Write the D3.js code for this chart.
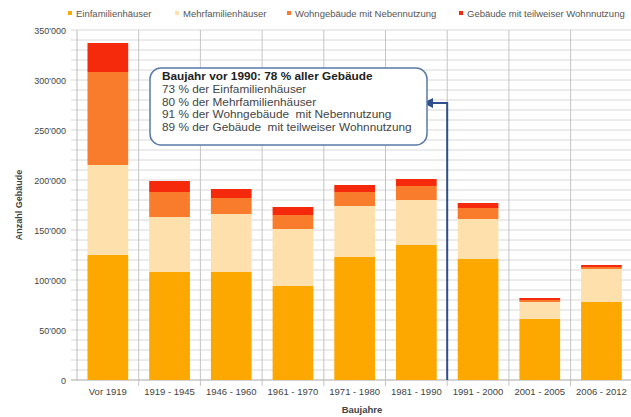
<!DOCTYPE html>
<html>
<head>
<meta charset="utf-8">
<script src="https://cdn.jsdelivr.net/npm/d3@7"></script>
<style>
  body { margin: 0; background: #fff; }
  svg { display: block; font-family: "Liberation Sans", Arial, sans-serif; }
</style>
</head>
<body>
<svg id="chart" width="631" height="417"></svg>
<script>
var categories = ['Vor 1919', '1919 - 1945', '1946 - 1960', '1961 - 1970', '1971 - 1980',
  '1981 - 1990', '1991 - 2000', '2001 - 2005', '2006 - 2012'];
var seriesNames = ['Einfamilienhäuser', 'Mehrfamilienhäuser', 'Wohngebäude mit Nebennutzung',
  'Gebäude mit teilweiser Wohnnutzung'];
var einfamilien = [125000, 108000, 108000, 94000, 123000, 135000, 121000, 61000, 78000];
var mehrfamilien = [90000, 55000, 58000, 57000, 51000, 45000, 40000, 17000, 33000];
var nebennutzung = [93000, 25000, 16000, 14000, 14000, 14000, 11000, 2000, 2000];
var teilweise = [29000, 11000, 9000, 8000, 7000, 7000, 5000, 2000, 2000];
var yTicks = [0, 50000, 100000, 150000, 200000, 250000, 300000, 350000];
var noteLines = ['Baujahr vor 1990: 78 % aller Gebäude', '73 % der Einfamilienhäuser',
  '80 % der Mehrfamilienhäuser', '91 % der Wohngebäude  mit Nebennutzung',
  '89 % der Gebäude  mit teilweiser Wohnnutzung'];

var colors = ['#fca800', '#fde0ab', '#f97c2c', '#f52a0c'];

var svg = d3.select('#chart');
var plotLeft = 77, plotRight = 631, plotTop = 30, plotBottom = 380;

var x = d3.scaleBand().domain(categories).range([plotLeft, plotLeft + 9 * 61.7]).paddingInner(0.34).paddingOuter(0.17);
var y = d3.scaleLinear().domain([0, 350000]).range([plotBottom, plotTop]);

// gridlines
svg.append('g').selectAll('line').data(d3.range(0, 350001, 10000)).enter().append('line')
  .attr('x1', plotLeft - 6).attr('x2', plotRight)
  .attr('y1', function (d) { return y(d); }).attr('y2', function (d) { return y(d); })
  .attr('stroke', '#d8d8d8').attr('stroke-width', 1);

var step = x.step();
svg.append('g').selectAll('line').data(d3.range(1, 10)).enter().append('line')
  .attr('x1', function (i) { return plotLeft + i * step; }).attr('x2', function (i) { return plotLeft + i * step; })
  .attr('y1', plotTop).attr('y2', plotBottom + 6)
  .attr('stroke', '#c4c4c4').attr('stroke-width', 1);

svg.append('line').attr('x1', plotLeft).attr('x2', plotLeft).attr('y1', plotTop).attr('y2', plotBottom)
  .attr('stroke', '#bbb');
svg.append('line').attr('x1', plotLeft - 6).attr('x2', plotRight).attr('y1', plotBottom).attr('y2', plotBottom)
  .attr('stroke', '#bbb');

// stacked bars
var rows = categories.map(function (c, i) {
  return { cat: c, s0: einfamilien[i], s1: mehrfamilien[i], s2: nebennutzung[i], s3: teilweise[i] };
});
var stack = d3.stack().keys(['s0', 's1', 's2', 's3'])(rows);

svg.append('g').selectAll('g').data(stack).enter().append('g')
  .attr('fill', function (d, i) { return colors[i]; })
  .selectAll('rect').data(function (d) { return d; }).enter().append('rect')
  .attr('x', function (d) { return x(d.data.cat); })
  .attr('width', x.bandwidth())
  .attr('y', function (d) { return y(d[1]); })
  .attr('height', function (d) { return y(d[0]) - y(d[1]); });

// y axis labels
svg.append('g').selectAll('text').data(yTicks).enter().append('text')
  .attr('x', 66).attr('y', function (d) { return y(d) + 3.5; })
  .attr('text-anchor', 'end').attr('font-size', 9).attr('fill', '#444')
  .text(function (d) { return d === 0 ? '0' : d3.format(',')(d).replace(/,/g, "'"); });

// x axis labels
svg.append('g').selectAll('text').data(categories).enter().append('text')
  .attr('x', function (d) { return x(d) + x.bandwidth() / 2; }).attr('y', 395)
  .attr('text-anchor', 'middle').attr('font-size', 9.5).attr('fill', '#444')
  .text(function (d) { return d; });

svg.append('text').attr('x', 362).attr('y', 413).attr('text-anchor', 'middle')
  .attr('font-size', 9.5).attr('font-weight', 'bold').attr('fill', '#444').text('Baujahre');

svg.append('text').attr('transform', 'translate(22,205) rotate(-90)').attr('text-anchor', 'middle')
  .attr('font-size', 9).attr('font-weight', 'bold').attr('fill', '#444').text('Anzahl Gebäude');

// legend
var legendX = [70, 177, 289, 461];
var legend = svg.append('g').selectAll('g').data(seriesNames).enter().append('g')
  .attr('transform', function (d, i) { return 'translate(' + legendX[i] + ',13)'; });
legend.append('rect').attr('x', -2).attr('y', -2).attr('width', 4).attr('height', 4)
  .attr('fill', function (d, i) { return colors[i]; });
legend.append('text').attr('x', 6).attr('y', 3.5).attr('font-size', 9.5).attr('fill', '#555')
  .text(function (d) { return d; });

// annotation arrow
var arrowX = plotLeft + 6 * step;
svg.append('defs').append('marker').attr('id', 'head').attr('viewBox', '0 0 10 10')
  .attr('refX', 2).attr('refY', 5).attr('markerWidth', 5).attr('markerHeight', 5).attr('orient', 'auto')
  .append('path').attr('d', 'M0,0L10,5L0,10z').attr('fill', '#2f4f8c');
svg.append('path')
  .attr('d', 'M' + arrowX + ',' + plotBottom + 'V103H431')
  .attr('fill', 'none').attr('stroke', '#2f4f8c').attr('stroke-width', 2)
  .attr('marker-end', 'url(#head)');

// annotation box
svg.append('rect').attr('x', 150).attr('y', 68).attr('width', 277).attr('height', 77)
  .attr('rx', 11).attr('fill', '#fff').attr('stroke', '#5a7aa8').attr('stroke-width', 1.5);
svg.append('g').selectAll('text').data(noteLines).enter().append('text')
  .attr('x', 162).attr('y', function (d, i) { return 80 + i * 12.8; })
  .attr('font-size', 11.8).attr('fill', function (d, i) { return i === 0 ? '#222' : '#444'; })
  .attr('font-weight', function (d, i) { return i === 0 ? 'bold' : 'normal'; })
  .style('white-space', 'pre')
  .text(function (d) { return d; });
</script>
</body>
</html>
